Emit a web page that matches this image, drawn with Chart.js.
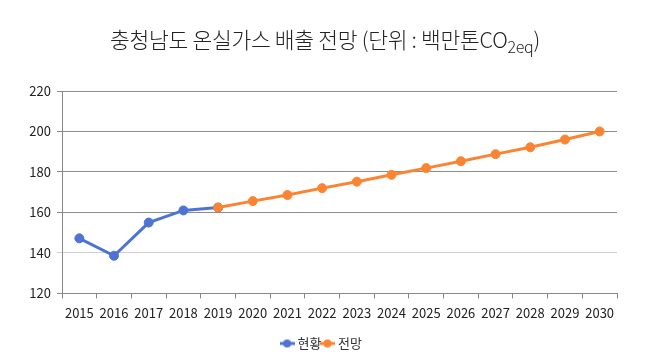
<!DOCTYPE html>
<html>
<head>
<meta charset="utf-8">
<script src="https://cdn.jsdelivr.net/npm/chart.js@4"></script>
<style>
  html, body { margin: 0; padding: 0; background: #fff; }
  #wrap { position: relative; width: 658px; height: 363px; }
  #title {
    position: absolute; left: 0; top: 23px; width: 650px; text-align: center;
    font-family: "Noto Sans CJK KR", "Noto Sans", sans-serif; font-weight: 300;
    font-size: 21.5px; color: #222; letter-spacing: -0.3px;
  }
  #title sub { font-size: 16px; vertical-align: -5px; }
</style>
</head>
<body>
<div id="wrap">
  <div id="title">충청남도 온실가스 배출 전망 (단위 : 백만톤CO<sub>2eq</sub>)</div>
  <canvas id="chart" width="658" height="363"></canvas>
</div>
<script>
const years = ["2015", "2016", "2017", "2018", "2019", "2020", "2021", "2022",
               "2023", "2024", "2025", "2026", "2027", "2028", "2029", "2030"];
const current = [147.2, 138.6, 155.0, 161.0, 162.4, null, null, null,
                 null, null, null, null, null, null, null, null];
const outlook = [null, null, null, null, 162.4, 165.6, 168.6, 172.0,
                 175.2, 178.6, 181.9, 185.3, 188.8, 192.2, 196.0, 200.0];
const seriesNames = ["현황", "전망"];
const yTicks = [120, 140, 160, 180, 200, 220];

const BLUE = "#4f73d3";
const ORANGE = "#fb8433";
const FONT = "'Noto Sans CJK KR', 'Noto Sans', sans-serif";

// little line+dot marker for the legend
function legendMarker(color) {
  const c = document.createElement("canvas");
  c.width = 15; c.height = 10;
  const g = c.getContext("2d");
  g.strokeStyle = color; g.lineWidth = 3;
  g.beginPath(); g.moveTo(0, 5); g.lineTo(15, 5); g.stroke();
  g.fillStyle = color;
  g.beginPath(); g.arc(7.5, 5, 4, 0, Math.PI * 2); g.fill();
  return c;
}
const markers = [legendMarker(BLUE), legendMarker(ORANGE)];

// legend sits a bit right of the plot centre in the original
const legendShift = {
  id: "legendShift",
  afterLayout(chart) {
    chart.legend.left += 14;
    chart.legend.right += 14;
  }
};

new Chart(document.getElementById("chart"), {
  type: "line",
  data: {
    labels: years,
    datasets: [
      {
        label: seriesNames[0], data: current, order: 1,
        borderColor: BLUE, backgroundColor: BLUE,
        borderWidth: 3, pointRadius: 4.5, pointBorderWidth: 1, pointHoverRadius: 4.5
      },
      {
        label: seriesNames[1], data: outlook, order: 0,
        borderColor: ORANGE, backgroundColor: ORANGE,
        borderWidth: 3, pointRadius: 4.5, pointBorderWidth: 1, pointHoverRadius: 4.5
      }
    ]
  },
  options: {
    responsive: false,
    animation: false,
    layout: { padding: { left: 0, right: 41, top: 91, bottom: 3 } },
    plugins: {
      title: { display: false },
      tooltip: { enabled: false },
      legend: {
        position: "bottom",
        labels: {
          usePointStyle: true,
          pointStyleWidth: 8,
          padding: 2,
          color: "#333",
          font: { family: FONT, size: 13 },
          generateLabels(chart) {
            return chart.data.datasets.map((ds, i) => ({
              text: ds.label,
              pointStyle: markers[i],
              fillStyle: ds.borderColor,
              strokeStyle: ds.borderColor,
              lineWidth: 0,
              hidden: false,
              datasetIndex: i,
              fontColor: "#333"
            }));
          }
        }
      }
    },
    scales: {
      x: {
        offset: true,
        afterFit(scale) { scale.height += 7; },
        grid: {
          offset: true,
          drawOnChartArea: false,
          drawTicks: true,
          tickLength: 5,
          color: "#888"
        },
        border: { color: "#888", width: 1 },
        ticks: {
          color: "#222",
          font: { family: FONT, size: 13 },
          maxRotation: 0,
          autoSkip: false,
          padding: 7
        }
      },
      y: {
        min: 120,
        max: 220,
        afterBuildTicks(scale) {
          scale.ticks = yTicks.map(v => ({ value: v }));
        },
        afterFit(scale) { scale.width = 62; },
        grid: {
          color: ctx => (ctx.tick && ctx.tick.value === 140) ? "#d0d0d0" : "#8c8c8c",
          lineWidth: 1,
          tickLength: 5
        },
        border: { color: "#888", width: 1 },
        ticks: {
          color: "#222",
          font: { family: FONT, size: 13 },
          padding: 6
        }
      }
    }
  },
  plugins: [legendShift]
});
</script>
</body>
</html>
